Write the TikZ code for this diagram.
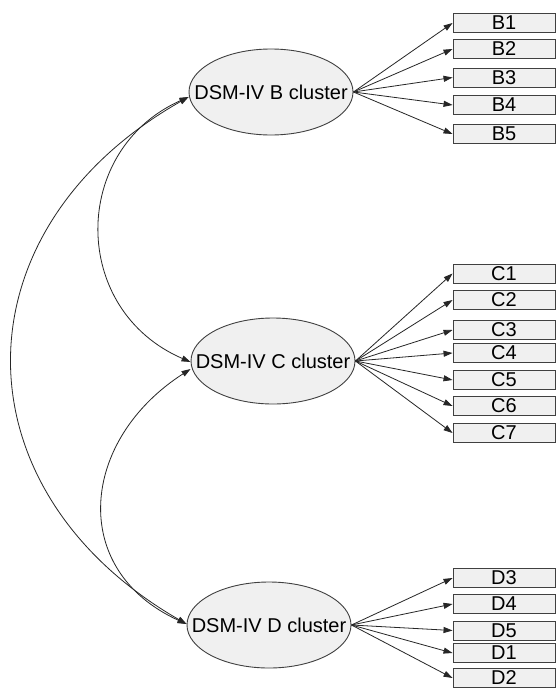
\documentclass[tikz,border=0pt]{standalone}
\usepackage{fontspec}
\setmainfont{Liberation Sans}
\usetikzlibrary{shapes.geometric,arrows.meta}
\definecolor{fillgray}{HTML}{F0F0F0}
\definecolor{edgegray}{HTML}{404040}
\tikzset{
  latent/.style={ellipse, draw=edgegray, fill=fillgray, line width=0.9pt,
    minimum width=164pt, minimum height=86pt, inner xsep=-22pt, inner ysep=0pt,
    font=\fontsize{20}{24}\selectfont},
  indicator/.style={rectangle, draw=edgegray, fill=fillgray, line width=0.9pt,
    minimum width=102pt, minimum height=19pt, inner sep=0pt,
    font=\fontsize{20}{20}\selectfont},
  load/.style={draw=black!85, line width=0.8pt, -{Triangle[length=9pt,width=6pt]}},
  cov/.style={draw=black!85, line width=0.8pt,
    {Triangle[length=9pt,width=6pt]}-{Triangle[length=9pt,width=6pt]}}
}
\begin{document}
\begin{tikzpicture}[x=1pt,y=-1pt]
\useasboundingbox[fill=white] (0,0) rectangle (556,688);
% latent variables
\node[latent] (B) at (271,92) {DSM-IV B cluster};
\node[latent] (C) at (273,361) {DSM-IV C cluster};
\node[latent] (D) at (269,625) {DSM-IV D cluster};
% B indicators
\node[indicator] (B1) at (504,23) {B1};
\node[indicator] (B2) at (504,49) {B2};
\node[indicator] (B3) at (504,77.5) {B3};
\node[indicator] (B4) at (504,105) {B4};
\node[indicator] (B5) at (504,134) {B5};
% C indicators
\node[indicator] (C1) at (504,273.5) {C1};
\node[indicator] (C2) at (504,300) {C2};
\node[indicator] (C3) at (504,330) {C3};
\node[indicator] (C4) at (504,353) {C4};
\node[indicator] (C5) at (504,380) {C5};
\node[indicator] (C6) at (504,406) {C6};
\node[indicator] (C7) at (504,433) {C7};
% D indicators
\node[indicator] (D3) at (504,578) {D3};
\node[indicator] (D4) at (504,604) {D4};
\node[indicator] (D5) at (504,630.5) {D5};
\node[indicator] (D1) at (504,653) {D1};
\node[indicator] (D2) at (504,678) {D2};
% loadings
\foreach \i in {1,...,5} \draw[load] (B.east) -- (B\i.west);
\foreach \i in {1,...,7} \draw[load] (C.east) -- (C\i.west);
\foreach \i in {3,4,5,1,2} \draw[load] (D.east) -- (D\i.west);
% covariances
\coordinate (Bl) at ([yshift=-5pt]B.west);
\coordinate (Cl1) at ([yshift=-1pt]C.west);
\coordinate (Cl2) at ([yshift=-8pt]C.west);
\coordinate (Dl) at ([yshift=1pt]D.west);
\draw[cov] (Bl) .. controls (70,150) and (70,310) .. (Cl1);
\draw[cov] (Cl2) .. controls (80,440) and (68,570) .. (Dl);
\draw[cov] (Bl) .. controls (-46,230) and (-46,490) .. (Dl);
\end{tikzpicture}
\end{document}
